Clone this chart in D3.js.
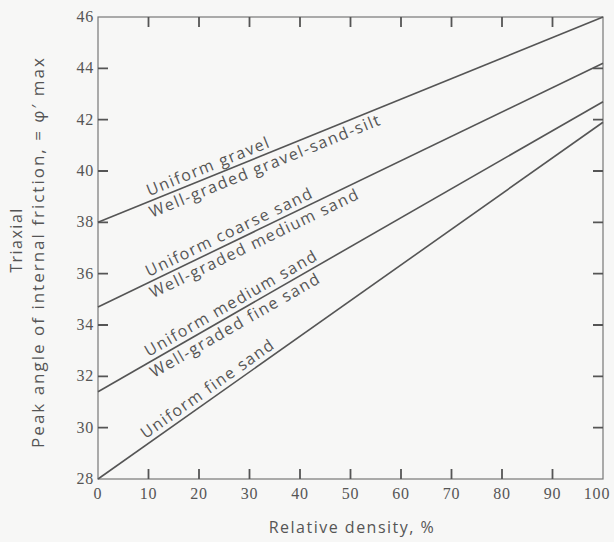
<!DOCTYPE html>
<html>
<head>
<meta charset="utf-8">
<script src="https://cdn.jsdelivr.net/npm/d3@7"></script>
<style>
  body { margin: 0; background: #f7f7f6; }
  svg { display: block; }
  .tick-label { font-family: "Liberation Serif", serif; font-size: 16px; letter-spacing: 0.8px; fill: #555; }
  .lbl { font-family: "Open Sans", sans-serif; font-size: 16px; letter-spacing: 1.5px; fill: #555; }
</style>
</head>
<body>
<div id="chart"></div>
<script>
// relative density (%) at the two ends of every line
var densities = [0, 100];
// peak friction angle at density 0 and 100
var lineGravel = [38.0, 46.0];
var lineCoarse = [34.7, 44.2];
var lineMedium = [31.4, 42.7];
var lineFine = [28.0, 41.9];
var lines = [lineGravel, lineCoarse, lineMedium, lineFine];

// labels: which line, text, where along the line (density), above or below
var labelLine = [0, 0, 1, 1, 2, 2, 3];
var labelText = ["Uniform gravel", "Well-graded gravel-sand-silt",
                 "Uniform coarse sand", "Well-graded medium sand",
                 "Uniform medium sand", "Well-graded fine sand",
                 "Uniform fine sand"];
var labelAt = [10.5, 9.5, 10.5, 9.5, 10.5, 9.5, 10];
var labelAbove = [true, false, true, false, true, false, true];

var xTicks = [0, 10, 20, 30, 40, 50, 60, 70, 80, 90, 100];
var yTicks = [28, 30, 32, 34, 36, 38, 40, 42, 44, 46];

var width = 614, height = 542;
var svg = d3.select("#chart").append("svg")
    .attr("width", width)
    .attr("height", height);

var x = d3.scaleLinear().domain([0, 100]).range([98, 603]);
var y = d3.scaleLinear().domain([28, 46]).range([479, 17]);

// frame
svg.append("rect")
    .attr("x", x(0)).attr("y", y(46))
    .attr("width", x(100) - x(0)).attr("height", y(28) - y(46))
    .attr("fill", "none").attr("stroke", "#777").attr("stroke-width", 1.2);

// inward ticks on all four sides, drawn as one path
var tl = 10;
var tickPath = d3.path();
xTicks.slice(1, -1).forEach(function (d) {
    tickPath.moveTo(x(d), y(28)); tickPath.lineTo(x(d), y(28) - tl);
    tickPath.moveTo(x(d), y(46)); tickPath.lineTo(x(d), y(46) + tl);
});
yTicks.slice(1, -1).forEach(function (d) {
    tickPath.moveTo(x(0), y(d)); tickPath.lineTo(x(0) + tl, y(d));
    tickPath.moveTo(x(100), y(d)); tickPath.lineTo(x(100) - tl, y(d));
});
svg.append("path")
    .attr("d", tickPath.toString())
    .attr("fill", "none")
    .attr("stroke", "#555")
    .attr("stroke-width", 1.8);

// tick labels
svg.append("g").selectAll("text").data(xTicks).enter().append("text")
    .attr("class", "tick-label")
    .attr("x", function (d) { return x(d); })
    .attr("y", y(28) + 20)
    .attr("dx", function (d) { return d === 100 ? -6 : 0; })
    .attr("text-anchor", "middle")
    .text(function (d) { return d; });
svg.append("g").selectAll("text").data(yTicks).enter().append("text")
    .attr("class", "tick-label")
    .attr("x", x(0) - 4)
    .attr("y", function (d) { return y(d) + 5; })
    .attr("text-anchor", "end")
    .text(function (d) { return d; });

// the lines
var line = d3.line()
    .x(function (d, i) { return x(densities[i]); })
    .y(function (d) { return y(d); });
svg.append("g").selectAll("path").data(lines).enter().append("path")
    .attr("d", line)
    .attr("fill", "none")
    .attr("stroke", "#555")
    .attr("stroke-width", 1.6);

// labels along the lines
labelText.forEach(function (t, i) {
    var l = lines[labelLine[i]];
    var d = labelAt[i];
    var v = l[0] + (l[1] - l[0]) * d / 100;
    var ang = Math.atan2(y(l[1]) - y(l[0]), x(100) - x(0)) * 180 / Math.PI;
    svg.append("text")
        .attr("class", "lbl")
        .attr("transform", "translate(" + x(d) + "," + y(v) + ") rotate(" + ang + ")")
        .attr("dy", labelAbove[i] ? -5 : 16)
        .text(t);
});

// axis titles
svg.append("text")
    .attr("class", "lbl")
    .attr("x", 352).attr("y", 533)
    .attr("text-anchor", "middle")
    .text("Relative density, %");

svg.append("text")
    .attr("class", "lbl")
    .attr("transform", "translate(22,240) rotate(-90)")
    .attr("text-anchor", "middle")
    .style("letter-spacing", "1.5px")
    .text("Triaxial");
svg.append("text")
    .attr("class", "lbl")
    .attr("transform", "translate(44,252) rotate(-90)")
    .attr("text-anchor", "middle")
    .style("font-size", "17px")
    .style("letter-spacing", "2px")
    .text("Peak angle of internal friction, = \u03c6\u2032 max");
</script>
</body>
</html>
